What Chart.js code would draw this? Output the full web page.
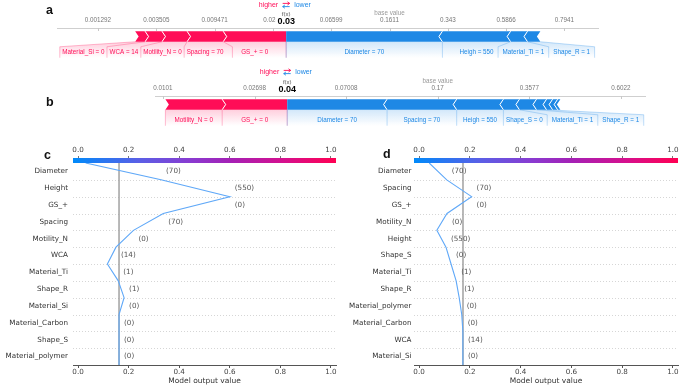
<!DOCTYPE html>
<html>
<head>
<meta charset="utf-8">
<script src="https://cdn.jsdelivr.net/npm/chart.js@4.4.1/dist/chart.umd.min.js"></script>
<style>
  html, body { margin: 0; padding: 0; background: #fff; }
  #wrap { position: relative; width: 685px; height: 388px; overflow: hidden; }
  canvas { position: absolute; }
  .tag { position: absolute; font: bold 12.5px "Liberation Sans", Arial, sans-serif; line-height: 12.5px; color: #111; }
</style>
</head>
<body>
<div id="wrap">
  <canvas id="forceA" width="685" height="64" style="left:0;top:0"></canvas>
  <canvas id="forceB" width="685" height="70" style="left:0;top:64px"></canvas>
  <canvas id="decisionC" width="345" height="248" style="left:0;top:140px"></canvas>
  <canvas id="decisionD" width="345" height="248" style="left:340px;top:140px"></canvas>
  <div class="tag" style="left:46px;top:4px">a</div>
  <div class="tag" style="left:46px;top:96px">b</div>
  <div class="tag" style="left:44px;top:149px">c</div>
  <div class="tag" style="left:383px;top:148px">d</div>
</div>
<script>
const SANS = '"Liberation Sans", Arial, sans-serif';
const DEJAVU = '"DejaVu Sans", sans-serif';
const RED = '#ff0d57';
const BLUE = '#1e88e5';
const LINE = '#5fa8f8';

// a - force plot (logit link). effects are log-odds, listed from f(x) outwards
const aTicks = [0.001292, 0.003505, 0.009471, 0.0253, 0.06599, 0.1611, 0.343, 0.5866, 0.7941];
const aOutput = 0.0316;
const aBase = 0.1611;
const aHigherNames = ['GS_+ = 0', 'Spacing = 70', 'Motility_N = 0', 'WCA = 14', 'Material_Si = 0'];
const aHigherEffects = [1.08, 0.62, 0.43, 0.29, 0.17];
const aLowerNames = ['Diameter = 70', 'Heigh = 550', 'Material_Ti = 1', 'Shape_R = 1'];
const aLowerEffects = [2.68, 1.17, 0.29, 0.22];

// b - force plot
const bTicks = [0.0101, 0.02698, 0.07008, 0.17, 0.3577, 0.6022];
const bOutput = 0.0381;
const bBase = 0.17;
const bHigherNames = ['GS_+ = 0', 'Motility_N = 0'];
const bHigherEffects = [0.71, 0.62];
const bLowerNames = ['Diameter = 70', 'Spacing = 70', 'Heigh = 550', 'Shape_S = 0', 'Material_Ti = 1',
  'Shape_R = 1', 'Material_polymer = 0', 'Material_Carbon = 0', 'WCA = 14'];
const bLowerEffects = [1.09, 0.76, 0.51, 0.175, 0.186, 0.11, 0.066, 0.055, 0.03];

// c / d - decision plots, rows top to bottom; path has one more point than rows (top -> bottom)
const decisionTicks = [0, 0.2, 0.4, 0.6, 0.8, 1.0];
const cFeatures = ['Diameter', 'Height', 'GS_+', 'Spacing', 'Motility_N', 'WCA', 'Material_Ti', 'Shape_R',
  'Material_Si', 'Material_Carbon', 'Shape_S', 'Material_polymer'];
const cValues = ['70', '550', '0', '70', '0', '14', '1', '1', '0', '0', '0', '0'];
const cPath = [0.03, 0.328, 0.60, 0.337, 0.219, 0.150, 0.116, 0.159, 0.182, 0.162, 0.162, 0.162, 0.162];
const cBase = 0.162;

const dFeatures = ['Diameter', 'Spacing', 'GS_+', 'Motility_N', 'Height', 'Shape_S', 'Material_Ti', 'Shape_R',
  'Material_polymer', 'Material_Carbon', 'WCA', 'Material_Si'];
const dValues = ['70', '70', '0', '0', '550', '0', '1', '1', '0', '0', '14', '0'];
const dPath = [0.04, 0.109, 0.207, 0.11, 0.07, 0.106, 0.126, 0.146, 0.158, 0.168, 0.172, 0.173, 0.173];
const dBase = 0.173;

const logit = (p) => Math.log(p / (1 - p));

function rgba(hex, a) {
  const n = parseInt(hex.slice(1), 16);
  return `rgba(${(n >> 16) & 255},${(n >> 8) & 255},${n & 255},${a})`;
}

function arrow(ctx, x0, x1, y, color) {
  const d = x1 > x0 ? 1 : -1;
  ctx.strokeStyle = color;
  ctx.lineWidth = 0.9;
  ctx.beginPath();
  ctx.moveTo(x0, y);
  ctx.lineTo(x1, y);
  ctx.moveTo(x1 - 2.2 * d, y - 1.6);
  ctx.lineTo(x1, y);
  ctx.lineTo(x1 - 2.2 * d, y + 1.6);
  ctx.stroke();
}

function makeForcePlugin(o) {
  return {
    id: 'forcePlot',
    afterDraw(chart) {
      const { ctx, chartArea: area, scales: { x } } = chart;
      const top = area.top;
      ctx.save();

      // small tick marks hanging from the axis
      ctx.strokeStyle = '#c8c8c8';
      ctx.lineWidth = 1;
      x.ticks.forEach((t) => {
        const px = Math.round(x.getPixelForValue(t.value)) + 0.5;
        ctx.beginPath();
        ctx.moveTo(px, top);
        ctx.lineTo(px, top + 3);
        ctx.stroke();
      });

      const segs = chart.data.datasets.map((ds, i) => {
        const el = chart.getDatasetMeta(i).data[0];
        const p = el.getProps(['x', 'base', 'y', 'height'], true);
        return {
          name: ds.label, dir: ds.dir, inner: ds.inner, show: ds.show,
          x0: Math.min(p.x, p.base), x1: Math.max(p.x, p.base),
          y0: p.y - p.height / 2, y1: p.y + p.height / 2,
        };
      });

      // chevron segments
      const tip = 3.5;
      segs.forEach((s) => {
        const m = (s.y0 + s.y1) / 2;
        ctx.fillStyle = s.dir > 0 ? RED : BLUE;
        ctx.beginPath();
        if (s.dir > 0) {
          ctx.moveTo(s.x0, s.y0);
          ctx.lineTo(s.x1, s.y0);
          ctx.lineTo(s.x1 + (s.inner ? 0 : tip), m);
          ctx.lineTo(s.x1, s.y1);
          ctx.lineTo(s.x0, s.y1);
          ctx.lineTo(s.x0 + tip, m);
        } else {
          ctx.moveTo(s.x1, s.y0);
          ctx.lineTo(s.x0, s.y0);
          ctx.lineTo(s.x0 - (s.inner ? 0 : tip), m);
          ctx.lineTo(s.x0, s.y1);
          ctx.lineTo(s.x1, s.y1);
          ctx.lineTo(s.x1 - tip, m);
        }
        ctx.closePath();
        ctx.fill();
      });
      ctx.strokeStyle = '#fff';
      ctx.lineWidth = 1;
      segs.forEach((s) => {
        if (s.inner) return;
        const m = (s.y0 + s.y1) / 2;
        const bx = s.dir > 0 ? s.x1 : s.x0;
        ctx.beginPath();
        ctx.moveTo(bx, s.y0);
        ctx.lineTo(bx + (s.dir > 0 ? tip : -tip), m);
        ctx.lineTo(bx, s.y1);
        ctx.stroke();
      });

      // labels under the bar, with links back to their segments
      const barBottom = segs[0].y1;
      const yL0 = barBottom + 5;
      const yL1 = barBottom + 16;
      ctx.font = `${o.labelSize}px ${SANS}`;
      ctx.textBaseline = 'middle';
      [1, -1].forEach((dir) => {
        const list = segs.filter((s) => s.dir === dir && s.show);
        if (!list.length) return;
        const gap = dir > 0 ? o.gapHigher : o.gapLower;
        const color = dir > 0 ? RED : BLUE;
        let prev = null;
        list.forEach((s) => {
          const w = ctx.measureText(s.name).width;
          const c = (s.x0 + s.x1) / 2;
          if (dir > 0) {
            let r = c + w / 2;
            if (prev !== null) r = Math.min(r, prev - gap);
            s.t0 = r - w; s.t1 = r; prev = s.t0;
          } else {
            let l = c - w / 2;
            if (prev !== null) l = Math.max(l, prev + gap);
            s.t0 = l; s.t1 = l + w; prev = s.t1;
          }
        });
        // separator positions: [bar point, label point]
        const seps = [];
        if (dir > 0) {
          seps.push([list[0].x1, list[0].x1]);
          for (let k = 0; k < list.length - 1; k++) {
            const b = list[k].x0;
            const lo = list[k + 1].t1, hi = list[k].t0;
            seps.push([b, b >= lo && b <= hi ? b : (lo + hi) / 2]);
          }
          const last = list[list.length - 1];
          seps.push([last.x0, Math.min(last.x0, last.t0 - gap / 2)]);
        } else {
          seps.push([list[0].x0, list[0].x0]);
          for (let k = 0; k < list.length - 1; k++) {
            const b = list[k].x1;
            const lo = list[k].t1, hi = list[k + 1].t0;
            seps.push([b, b >= lo && b <= hi ? b : (lo + hi) / 2]);
          }
          const last = list[list.length - 1];
          seps.push([last.x1, Math.max(last.x1, last.t1 + gap / 2)]);
        }
        const grad = ctx.createLinearGradient(0, barBottom, 0, yL1);
        grad.addColorStop(0, rgba(color, 0.2));
        grad.addColorStop(1, rgba(color, 0));
        list.forEach((s, k) => {
          const a = seps[k], b = seps[k + 1];
          ctx.fillStyle = grad;
          ctx.beginPath();
          ctx.moveTo(a[0], barBottom);
          ctx.lineTo(b[0], barBottom);
          ctx.lineTo(b[1], yL0);
          ctx.lineTo(b[1], yL1);
          ctx.lineTo(a[1], yL1);
          ctx.lineTo(a[1], yL0);
          ctx.closePath();
          ctx.fill();
        });
        ctx.strokeStyle = rgba(color, 0.35);
        ctx.lineWidth = 0.8;
        seps.forEach(([bx, lx]) => {
          ctx.beginPath();
          ctx.moveTo(bx, barBottom);
          ctx.lineTo(lx, yL0);
          ctx.lineTo(lx, yL1);
          ctx.stroke();
        });
        ctx.fillStyle = color;
        ctx.textAlign = 'left';
        list.forEach((s) => ctx.fillText(s.name, s.t0, barBottom + 10.5));
      });

      // header: higher / lower legend, f(x), base value
      const fxPx = x.getPixelForValue(logit(o.output));
      const ly = top - o.legendGap;
      ctx.font = `7px ${SANS}`;
      ctx.textBaseline = 'middle';
      ctx.fillStyle = RED;
      ctx.textAlign = 'right';
      ctx.fillText('higher', fxPx - 8, ly);
      ctx.fillStyle = BLUE;
      ctx.textAlign = 'left';
      ctx.fillText('lower', fxPx + 8, ly);
      arrow(ctx, fxPx - 3.5, fxPx + 3.5, ly - 1.6, RED);
      arrow(ctx, fxPx + 3.5, fxPx - 3.5, ly + 1.6, BLUE);

      ctx.textAlign = 'center';
      ctx.font = `6px ${SANS}`;
      ctx.fillStyle = '#555';
      ctx.fillText('f(x)', fxPx, top - 14);
      ctx.font = `bold 9px ${SANS}`;
      const val = o.output.toFixed(2);
      const vw = ctx.measureText(val).width;
      ctx.fillStyle = '#fff';
      ctx.fillRect(fxPx - vw / 2 - 2, top - 11.5, vw + 4, 10);
      ctx.fillStyle = '#000';
      ctx.fillText(val, fxPx, top - 6.3);

      ctx.font = `6.3px ${SANS}`;
      ctx.fillStyle = '#999';
      ctx.fillText('base value', x.getPixelForValue(logit(o.base)), top - 14.5);
      ctx.restore();
    },
  };
}

function forceChart(id, o) {
  const fx = logit(o.output);
  const datasets = [];
  let edge = fx;
  o.higherEffects.forEach((e, i) => {
    datasets.push({
      label: o.higherNames[i], data: [[edge - e, edge]], dir: 1, inner: i === 0, show: e >= 0.1,
      backgroundColor: 'rgba(0,0,0,0)', grouped: false, barThickness: 10.5,
    });
    edge -= e;
  });
  edge = fx;
  o.lowerEffects.forEach((e, i) => {
    datasets.push({
      label: o.lowerNames[i], data: [[edge, edge + e]], dir: -1, inner: i === 0, show: e >= 0.1,
      backgroundColor: 'rgba(0,0,0,0)', grouped: false, barThickness: 10.5,
    });
    edge += e;
  });

  new Chart(document.getElementById(id), {
    type: 'bar',
    data: { labels: [''], datasets },
    options: {
      indexAxis: 'y',
      responsive: false,
      animation: false,
      events: [],
      layout: { padding: o.padding },
      plugins: { legend: { display: false }, tooltip: { enabled: false } },
      scales: {
        x: {
          type: 'linear',
          position: 'top',
          min: o.range[0],
          max: o.range[1],
          afterBuildTicks: (s) => { s.ticks = o.ticks.map((p) => ({ value: logit(p) })); },
          afterFit: (s) => { s.height = 14; },
          grid: { display: false, drawTicks: false },
          border: { display: true, color: '#cfcfcf', width: 1 },
          ticks: {
            autoSkip: false, maxRotation: 0, padding: 4.2, color: '#777',
            font: { size: 6.3, family: SANS },
            callback: (v, i) => String(o.ticks[i]),
          },
        },
        y: { display: false },
      },
    },
    plugins: [makeForcePlugin(o)],
  });
}

function makeDecisionPlugin(o, vals, labels) {
  return {
    id: 'decisionPlot',
    beforeDatasetsDraw(chart) {
      const { ctx, chartArea: a, scales: { x, y } } = chart;
      ctx.save();
      ctx.strokeStyle = '#cccccc';
      ctx.lineWidth = 0.8;
      ctx.setLineDash([1, 2]);
      for (let i = 1; i < vals.length - 1; i++) {
        const py = Math.round(y.getPixelForValue(i)) + 0.5;
        ctx.beginPath();
        ctx.moveTo(a.left, py);
        ctx.lineTo(a.right, py);
        ctx.stroke();
      }
      ctx.setLineDash([]);
      ctx.strokeStyle = '#9a9a9a';
      ctx.lineWidth = 1.4;
      const bx = x.getPixelForValue(o.base);
      ctx.beginPath();
      ctx.moveTo(bx, a.top);
      ctx.lineTo(bx, a.bottom);
      ctx.stroke();
      ctx.restore();
    },
    afterDraw(chart) {
      const { ctx, chartArea: a, scales: { x, y } } = chart;
      ctx.save();
      const g = ctx.createLinearGradient(a.left, 0, a.right, 0);
      g.addColorStop(0, '#008afa');
      g.addColorStop(0.25, '#5a5fe6');
      g.addColorStop(0.45, '#8a3ad0');
      g.addColorStop(0.6, '#a520b5');
      g.addColorStop(0.8, '#d5108e');
      g.addColorStop(1, '#ff0052');
      ctx.fillStyle = g;
      ctx.fillRect(a.left, a.top - 5, a.right - a.left, 5);

      ctx.font = `7.2px ${DEJAVU}`;
      ctx.fillStyle = '#555';
      ctx.textAlign = 'left';
      ctx.textBaseline = 'middle';
      for (let i = 0; i < labels.length; i++) {
        const px = Math.max(x.getPixelForValue(vals[i]), x.getPixelForValue(vals[i + 1])) + 5;
        ctx.fillText(`(${labels[i]})`, px, y.getPixelForValue(i + 0.5));
      }
      ctx.restore();
    },
  };
}

function decisionChart(id, o) {
  const rows = o.features.slice().reverse();
  const vals = o.path.slice().reverse();
  const labels = o.values.slice().reverse();
  const tickFont = { size: 7.2, family: DEJAVU };
  const setTicks = (s) => { s.ticks = decisionTicks.map((v) => ({ value: v })); };

  new Chart(document.getElementById(id), {
    type: 'scatter',
    data: {
      datasets: [{
        data: vals.map((v, i) => ({ x: v, y: i })),
        showLine: true, borderColor: LINE, borderWidth: 1.1,
        pointRadius: 0, pointHoverRadius: 0, tension: 0,
      }],
    },
    options: {
      responsive: false,
      animation: false,
      events: [],
      layout: { padding: { left: 0, right: o.padRight, top: 0, bottom: 0 } },
      plugins: { legend: { display: false }, tooltip: { enabled: false } },
      scales: {
        x: {
          type: 'linear', position: 'bottom', min: -0.02, max: 1.02,
          afterBuildTicks: setTicks,
          afterFit: (s) => { s.height = 23; },
          grid: { drawOnChartArea: false, drawTicks: true, tickLength: 3, color: '#555' },
          border: { color: '#555', width: 1 },
          ticks: { autoSkip: false, maxRotation: 0, padding: 0, color: '#444', font: tickFont, callback: (v) => v.toFixed(1) },
          title: { display: true, text: 'Model output value', color: '#333', font: { size: 7.5, family: DEJAVU }, padding: { top: 0, bottom: 2.5 } },
        },
        x2: {
          type: 'linear', position: 'top', min: -0.02, max: 1.02,
          afterBuildTicks: setTicks,
          afterFit: (s) => { s.height = 23; },
          grid: { drawOnChartArea: false, drawTicks: true, tickLength: 7, color: '#777' },
          border: { display: false },
          ticks: { autoSkip: false, maxRotation: 0, padding: 1.7, color: '#444', font: tickFont, callback: (v) => v.toFixed(1) },
        },
        y: {
          type: 'linear', min: 0, max: rows.length,
          afterBuildTicks: (s) => { s.ticks = rows.map((_, i) => ({ value: i + 0.5 })); },
          afterFit: (s) => { s.width = o.yWidth; },
          grid: { display: false, drawTicks: false },
          border: { display: false },
          ticks: { autoSkip: false, padding: o.yPad, color: '#333', font: tickFont, callback: (v) => rows[Math.floor(v)] },
        },
      },
    },
    plugins: [makeDecisionPlugin(o, vals, labels)],
  });
}

forceChart('forceA', {
  ticks: aTicks, output: aOutput, base: aBase,
  higherNames: aHigherNames, higherEffects: aHigherEffects,
  lowerNames: aLowerNames, lowerEffects: aLowerEffects,
  range: [-7.353, 1.926], padding: { left: 57, right: 87, top: 14, bottom: 19 },
  labelSize: 6.3, gapHigher: 5, gapLower: 9, legendGap: 23,
});

forceChart('forceB', {
  ticks: bTicks, output: bOutput, base: bBase,
  higherNames: bHigherNames, higherEffects: bHigherEffects,
  lowerNames: bLowerNames, lowerEffects: bLowerEffects,
  range: [-4.672, 0.677], padding: { left: 155, right: 40, top: 18, bottom: 21 },
  labelSize: 6.3, gapHigher: 5, gapLower: 9, legendGap: 24,
});

decisionChart('decisionC', { features: cFeatures, values: cValues, path: cPath, base: cBase, padRight: 9, yWidth: 73, yPad: 5 });
decisionChart('decisionD', { features: dFeatures, values: dValues, path: dPath, base: dBase, padRight: 7, yWidth: 74, yPad: 2.5 });
</script>
</body>
</html>
